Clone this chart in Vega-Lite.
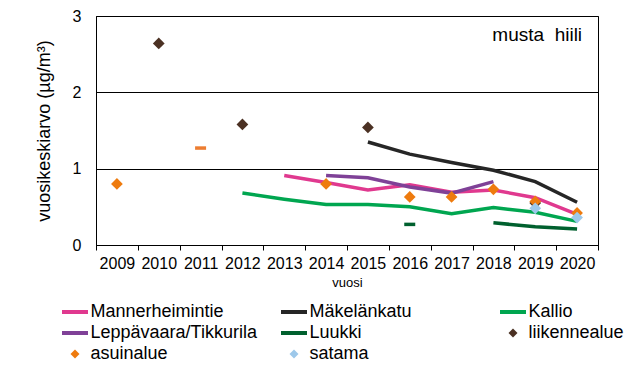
{
  "$schema": "https://vega.github.io/schema/vega-lite/v6.json",
  "width": 502,
  "height": 229,
  "autosize": {"type": "none"},
  "padding": {"left": 96, "top": 16, "right": 45, "bottom": 126},
  "background": "white",
  "config": {
    "font": "Liberation Sans",
    "view": {"stroke": "black", "strokeWidth": 1},
    "axis": {"labelColor": "black", "titleColor": "black", "domainColor": "black", "tickColor": "black", "labelFont": "Liberation Sans", "titleFont": "Liberation Sans", "titleFontWeight": "normal"},
    "legend": {
      "orient": "none",
      "legendX": -30,
      "legendY": 287,
      "direction": "horizontal",
      "columns": 3,
      "gridAlign": "all",
      "columnPadding": 16,
      "rowPadding": 3,
      "padding": 0,
      "symbolSize": 100,
      "labelOffset": 6.5,
      "labelFontSize": 18,
      "labelFont": "Liberation Sans",
      "labelColor": "black",
      "labelLimit": 300
    }
  },
  "data": {
    "values": [
      {"year": "2013", "value": 0.91, "series": "Mannerheimintie", "kind": "line"},
      {"year": "2014", "value": 0.82, "series": "Mannerheimintie", "kind": "line"},
      {"year": "2015", "value": 0.72, "series": "Mannerheimintie", "kind": "line"},
      {"year": "2016", "value": 0.79, "series": "Mannerheimintie", "kind": "line"},
      {"year": "2017", "value": 0.69, "series": "Mannerheimintie", "kind": "line"},
      {"year": "2018", "value": 0.72, "series": "Mannerheimintie", "kind": "line"},
      {"year": "2019", "value": 0.62, "series": "Mannerheimintie", "kind": "line"},
      {"year": "2020", "value": 0.40, "series": "Mannerheimintie", "kind": "line"},
      {"year": "2015", "value": 1.35, "series": "Mäkelänkatu", "kind": "line"},
      {"year": "2016", "value": 1.19, "series": "Mäkelänkatu", "kind": "line"},
      {"year": "2017", "value": 1.08, "series": "Mäkelänkatu", "kind": "line"},
      {"year": "2018", "value": 0.98, "series": "Mäkelänkatu", "kind": "line"},
      {"year": "2019", "value": 0.83, "series": "Mäkelänkatu", "kind": "line"},
      {"year": "2020", "value": 0.56, "series": "Mäkelänkatu", "kind": "line"},
      {"year": "2012", "value": 0.68, "series": "Kallio", "kind": "line"},
      {"year": "2013", "value": 0.60, "series": "Kallio", "kind": "line"},
      {"year": "2014", "value": 0.53, "series": "Kallio", "kind": "line"},
      {"year": "2015", "value": 0.53, "series": "Kallio", "kind": "line"},
      {"year": "2016", "value": 0.50, "series": "Kallio", "kind": "line"},
      {"year": "2017", "value": 0.41, "series": "Kallio", "kind": "line"},
      {"year": "2018", "value": 0.49, "series": "Kallio", "kind": "line"},
      {"year": "2019", "value": 0.43, "series": "Kallio", "kind": "line"},
      {"year": "2020", "value": 0.31, "series": "Kallio", "kind": "line"},
      {"year": "2014", "value": 0.91, "series": "Leppävaara/Tikkurila", "kind": "line"},
      {"year": "2015", "value": 0.88, "series": "Leppävaara/Tikkurila", "kind": "line"},
      {"year": "2016", "value": 0.76, "series": "Leppävaara/Tikkurila", "kind": "line"},
      {"year": "2017", "value": 0.68, "series": "Leppävaara/Tikkurila", "kind": "line"},
      {"year": "2018", "value": 0.83, "series": "Leppävaara/Tikkurila", "kind": "line"},
      {"year": "2016", "value": 0.27, "series": "Luukki", "kind": "dash"},
      {"year": "2018", "value": 0.29, "series": "Luukki", "kind": "line"},
      {"year": "2019", "value": 0.24, "series": "Luukki", "kind": "line"},
      {"year": "2020", "value": 0.21, "series": "Luukki", "kind": "line"},
      {"year": "2011", "value": 1.27, "series": "muu", "kind": "dash"},
      {"year": "2010", "value": 2.64, "series": "liikennealue", "kind": "point"},
      {"year": "2012", "value": 1.58, "series": "liikennealue", "kind": "point"},
      {"year": "2015", "value": 1.54, "series": "liikennealue", "kind": "point"},
      {"year": "2019", "value": 0.55, "series": "liikennealue", "kind": "point"},
      {"year": "2009", "value": 0.80, "series": "asuinalue", "kind": "point"},
      {"year": "2014", "value": 0.80, "series": "asuinalue", "kind": "point"},
      {"year": "2016", "value": 0.63, "series": "asuinalue", "kind": "point"},
      {"year": "2017", "value": 0.63, "series": "asuinalue", "kind": "point"},
      {"year": "2018", "value": 0.73, "series": "asuinalue", "kind": "point"},
      {"year": "2019", "value": 0.57, "series": "asuinalue", "kind": "point"},
      {"year": "2020", "value": 0.42, "series": "asuinalue", "kind": "point"},
      {"year": "2019", "value": 0.48, "series": "satama", "kind": "point"},
      {"year": "2020", "value": 0.36, "series": "satama", "kind": "point"}
    ]
  },
  "encoding": {
    "x": {
      "field": "year", "type": "ordinal",
      "scale": {"type": "band", "domain": ["2009","2010","2011","2012","2013","2014","2015","2016","2017","2018","2019","2020"], "paddingInner": 0, "paddingOuter": 0},
      "axis": {"title": "vuosi", "titleFontSize": 13, "titlePadding": 5, "labelAngle": 0, "labelFontSize": 16, "labelPadding": 5, "tickBand": "extent", "tickSize": 5, "grid": false, "domainColor": "black"}
    },
    "y": {
      "field": "value", "type": "quantitative",
      "scale": {"domain": [0, 3], "nice": false, "zero": true},
      "axis": {"title": "vuosikeskiarvo (µg/m³)", "titleFontSize": 18, "titlePadding": 19, "values": [0, 1, 2, 3], "format": "d", "labelFontSize": 16, "labelPadding": 15, "ticks": false, "grid": true, "gridColor": "black", "gridOpacity": 1, "gridWidth": 1}
    }
  },
  "layer": [
    {
      "transform": [{"filter": "datum.kind === 'line'"}],
      "mark": {"type": "line", "strokeWidth": 3.5},
      "encoding": {
        "color": {
          "field": "series", "type": "nominal",
          "scale": {
            "domain": ["Mannerheimintie","Mäkelänkatu","Kallio","Leppävaara/Tikkurila","Luukki","liikennealue","asuinalue","satama","muu"],
            "range": ["#E0398F","#262626","#00A650","#7F4197","#00602E","#4B3123","#EE7B0E","#9DC8EA","#ED7D31"]
          },
          "legend": {
            "title": null,
            "values": ["Mannerheimintie","Mäkelänkatu","Kallio","Leppävaara/Tikkurila","Luukki","liikennealue","asuinalue","satama"],
            "encode": {
              "symbols": {
                "update": {
                  "stroke": {"scale": "color", "field": "value"},
                  "strokeWidth": {"signal": "indexof(['liikennealue','asuinalue','satama'], datum.value) >= 0 ? 0 : 4"}
                }
              }
            }
          }
        },
        "detail": {"field": "series"}
      }
    },
    {
      "transform": [{"filter": "datum.kind === 'dash'"}],
      "mark": {"type": "tick", "orient": "horizontal", "size": 11, "thickness": 3.5, "opacity": 1},
      "encoding": {
        "color": {
          "field": "series", "type": "nominal",
          "legend": {
            "title": null,
            "values": ["Mannerheimintie","Mäkelänkatu","Kallio","Leppävaara/Tikkurila","Luukki","liikennealue","asuinalue","satama"],
            "encode": {
              "symbols": {
                "update": {
                  "stroke": {"scale": "color", "field": "value"},
                  "strokeWidth": {"signal": "indexof(['liikennealue','asuinalue','satama'], datum.value) >= 0 ? 0 : 4"}
                }
              }
            }
          }
        }
      }
    },
    {
      "transform": [{"filter": "datum.kind === 'point'"}],
      "mark": {"type": "point", "filled": true, "opacity": 1, "size": 170},
      "encoding": {
        "color": {
          "field": "series", "type": "nominal",
          "legend": {
            "title": null,
            "values": ["Mannerheimintie","Mäkelänkatu","Kallio","Leppävaara/Tikkurila","Luukki","liikennealue","asuinalue","satama"],
            "encode": {
              "symbols": {
                "update": {
                  "stroke": {"scale": "color", "field": "value"},
                  "strokeWidth": {"signal": "indexof(['liikennealue','asuinalue','satama'], datum.value) >= 0 ? 0 : 4"}
                }
              }
            }
          }
        },
        "shape": {
          "field": "series", "type": "nominal",
          "scale": {
            "domain": ["Mannerheimintie","Mäkelänkatu","Kallio","Leppävaara/Tikkurila","Luukki","liikennealue","asuinalue","satama","muu"],
            "range": ["M-2.6,0H2.6","M-2.6,0H2.6","M-2.6,0H2.6","M-2.6,0H2.6","M-2.6,0H2.6","M0,-0.9L0.9,0L0,0.9L-0.9,0Z","M0,-0.9L0.9,0L0,0.9L-0.9,0Z","M0,-0.9L0.9,0L0,0.9L-0.9,0Z","M-2.6,0H2.6"]
          },
          "legend": {
            "title": null,
            "values": ["Mannerheimintie","Mäkelänkatu","Kallio","Leppävaara/Tikkurila","Luukki","liikennealue","asuinalue","satama"],
            "encode": {
              "symbols": {
                "update": {
                  "stroke": {"scale": "color", "field": "value"},
                  "strokeWidth": {"signal": "indexof(['liikennealue','asuinalue','satama'], datum.value) >= 0 ? 0 : 4"}
                }
              }
            }
          }
        }
      }
    },
    {
      "data": {"values": [{"label": "musta\u00a0 hiili", "year": "2020", "value": 2.75}]},
      "mark": {"type": "text", "align": "right", "baseline": "middle", "fontSize": 19, "font": "Liberation Sans", "color": "black", "dx": 5},
      "encoding": {
        "text": {"field": "label"},
        "x": {"field": "year", "type": "ordinal"},
        "y": {"field": "value", "type": "quantitative"},
        "color": {"value": "black"}
      }
    }
  ]
}
